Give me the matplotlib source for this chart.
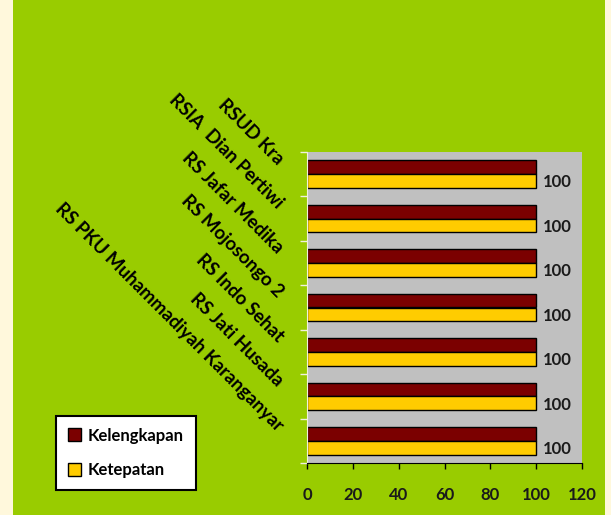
import numpy as np
import matplotlib.pyplot as plt
from matplotlib.patches import Rectangle
import matplotlib.transforms as mtransforms

plt.rcParams["font.family"] = ["Lato", "DejaVu Sans"]

hospitals = [
    "RSUD Kra",
    "RSIA  Dian Pertiwi",
    "RS Jafar Medika",
    "RS Mojosongo 2",
    "RS Indo Sehat",
    "RS Jati Husada",
    "RS PKU Muhammadiyah Karanganyar",
]
kelengkapan = [100, 100, 100, 100, 100, 100, 100]
ketepatan = [100, 100, 100, 100, 100, 100, 100]
x_ticks = [0, 20, 40, 60, 80, 100, 120]

GREEN = "#99CC00"
CREAM = "#FFF8DC"
DARK_RED = "#7B0000"
YELLOW = "#FFCC00"

fig = plt.figure(figsize=(6.11, 5.15), dpi=100, facecolor=GREEN)
fig.patches.append(Rectangle((0, 0), 13 / 611, 1, transform=fig.transFigure,
                             facecolor=CREAM, edgecolor="none", zorder=0))
fig.patches.append(Rectangle((605 / 611, 0), 6 / 611, 1, transform=fig.transFigure,
                             facecolor=CREAM, edgecolor="none", zorder=0))

ax = fig.add_axes([307 / 611, 1 - 463 / 515, 275 / 611, 311 / 515])
ax.set_facecolor("#C0C0C0")

n = len(hospitals)
y = np.arange(n)[::-1].astype(float)
h = 0.31

ax.barh(y + h / 2, kelengkapan, height=h, color=DARK_RED, edgecolor="black",
        linewidth=1.0, label="Kelengkapan")
bars = ax.barh(y - h / 2, ketepatan, height=h, color=YELLOW, edgecolor="black",
               linewidth=1.0, label="Ketepatan")

for rect, v in zip(bars, ketepatan):
    ax.annotate(str(v), (rect.get_width(), rect.get_y() + rect.get_height() / 2),
                xytext=(5, -1), textcoords="offset points", ha="left", va="center",
                fontsize=12, fontweight="bold", color="#1a1a1a")

ax.set_xlim(0, 120)
ax.set_ylim(-0.5, n - 0.5)
ax.set_xticks(x_ticks)
ax.tick_params(axis="x", length=4, width=1, color="black", pad=13,
               labelsize=12, labelcolor="#1a1a1a")
for t in ax.get_xticklabels():
    t.set_fontweight("bold")

ax.set_yticks(y)
ax.set_yticklabels(hospitals, rotation=-45, ha="right", va="center",
                   rotation_mode="anchor", fontsize=13.5, fontweight="bold")
ax.tick_params(axis="y", which="major", length=0, pad=19)
# nudge the rotated labels up a bit, like the original
shift = mtransforms.ScaledTranslation(0, 9 / 72, fig.dpi_scale_trans)
for t in ax.get_yticklabels():
    t.set_transform(t.get_transform() + shift)
ax.set_yticks(np.arange(n + 1) - 0.5, minor=True)
ax.tick_params(axis="y", which="minor", length=5, width=1, color="#F0F0E0")

for s in ["top", "right"]:
    ax.spines[s].set_visible(False)
ax.spines["left"].set_color("#F0F0E0")
ax.spines["bottom"].set_color("black")

leg = fig.legend(loc="lower left", bbox_to_anchor=(48 / 611, 1 - 498 / 515),
                 frameon=True, fancybox=False, framealpha=1, edgecolor="black",
                 fontsize=12, handlelength=0.8, handleheight=0.8, labelspacing=1.1,
                 handletextpad=0.4, borderpad=0.7)
leg.get_frame().set_linewidth(1.5)
for t in leg.get_texts():
    t.set_fontweight("bold")

fig.savefig("out.png", dpi=100, facecolor=GREEN)
